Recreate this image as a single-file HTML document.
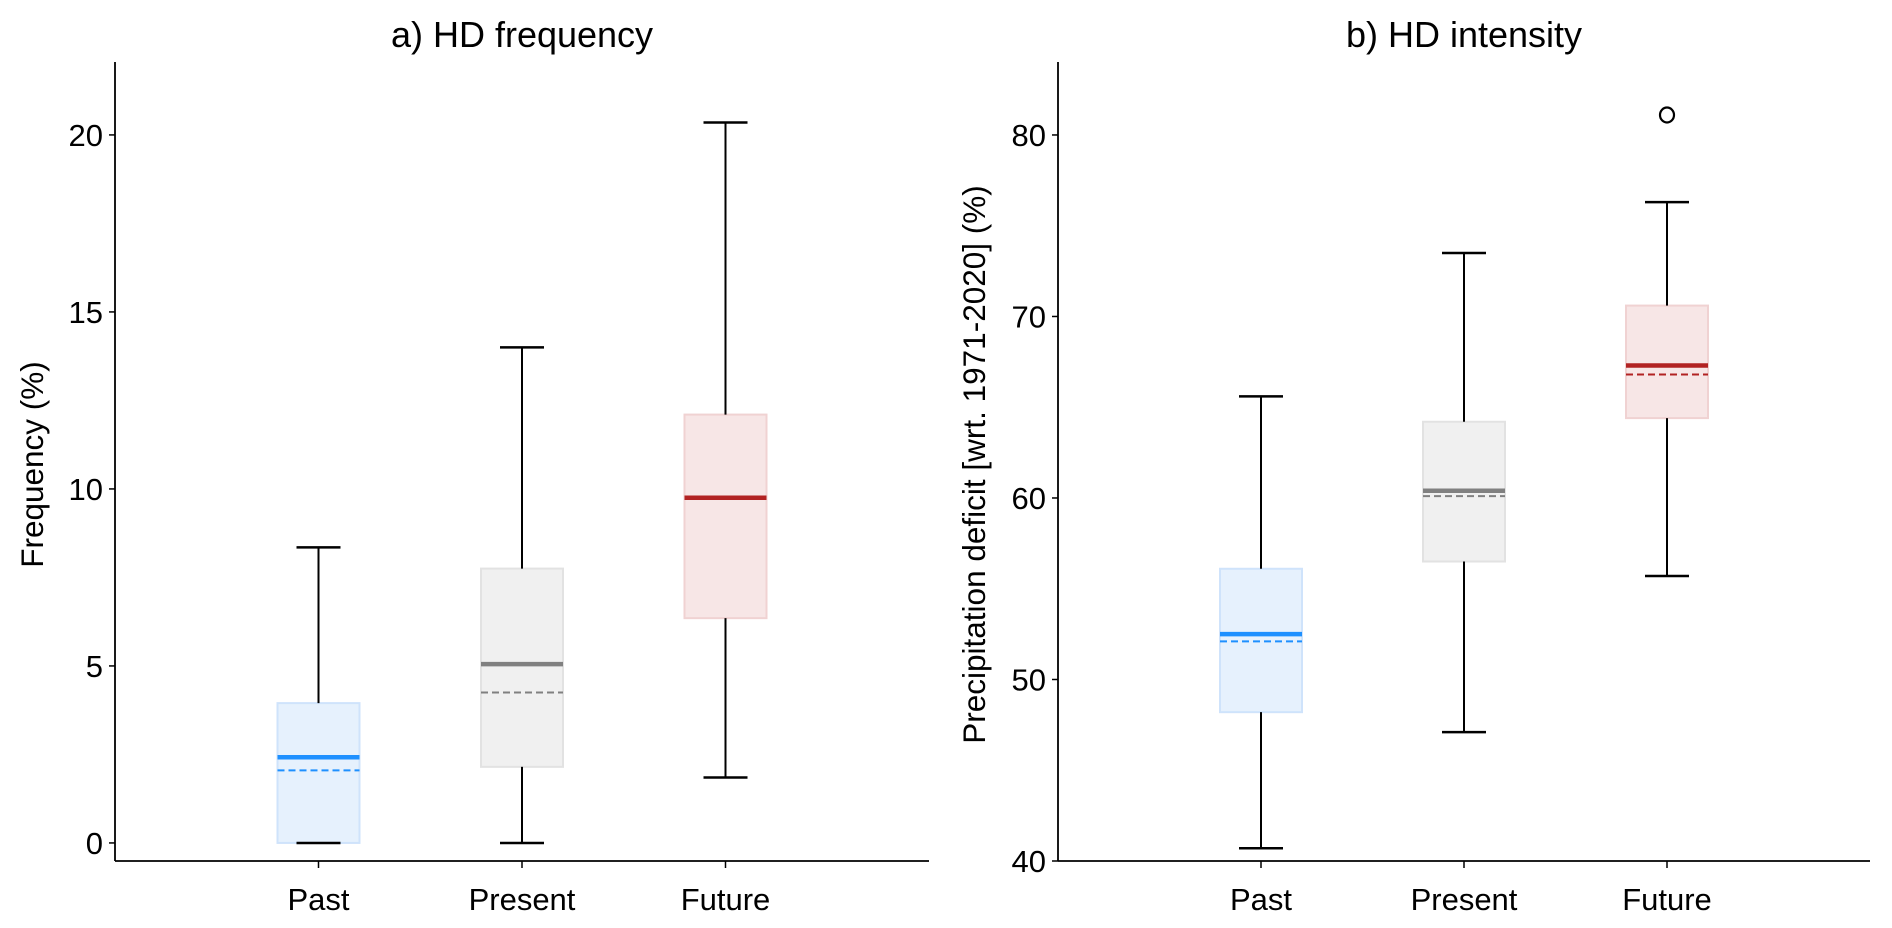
<!DOCTYPE html>
<html><head><meta charset="utf-8"><style>
html,body{margin:0;padding:0;background:#fff}
svg text{font-family:"Liberation Sans",Arial,sans-serif;fill:#000}
</style></head><body>
<svg id="chart" width="1892" height="923" viewBox="0 0 1892 923" xmlns="http://www.w3.org/2000/svg"></svg>
<script>
const categories = ["Past","Present","Future"];
// panel a: HD frequency
const freqLow = [0, 0, 1.85];
const freqQ1 = [0, 2.15, 6.35];
const freqMedian = [2.42, 5.05, 9.75];
const freqMean = [2.05, 4.25, 9.75];
const freqQ3 = [3.95, 7.75, 12.1];
const freqHigh = [8.35, 14.0, 20.35];
const freqTicks = [0, 5, 10, 15, 20];
// panel b: HD intensity
const intLow = [40.7, 47.1, 55.7];
const intQ1 = [48.2, 56.5, 64.4];
const intMedian = [52.5, 60.4, 67.3];
const intMean = [52.1, 60.1, 66.8];
const intQ3 = [56.1, 64.2, 70.6];
const intHigh = [65.6, 73.5, 76.3];
const intOutliers = [[], [], [81.1]];
const intTicks = [40, 50, 60, 70, 80];

const lineColors = ["#1e90ff","#808080","#b22222"];
const fillColors = ["#e6f1fd","#f0f0f0","#f7e6e6"];
const edgeColors = ["#cfe3fb","#e2e2e2","#f0d2d2"];

const svg = document.getElementById('chart');
const NS = "http://www.w3.org/2000/svg";
function mk(tag, attrs, parent){const e=document.createElementNS(NS,tag);for(const k in attrs)e.setAttribute(k,attrs[k]);(parent||svg).appendChild(e);return e;}

function panel(opt){
  const g = mk('g',{});
  
  
  const x0=opt.x0,x1=opt.x1,yTop=62,yBot=861;
  const ys = v => yBot - (v-opt.ymin)/(opt.ymax-opt.ymin)*(yBot-yTop);
  const xs = i => opt.cx0 + i*opt.step;
  const sl = mk('line',{x1:x0,y1:yTop,x2:x0,y2:yBot,stroke:'#000','stroke-width':1.8},g);
  
  
  const sb = mk('line',{x1:x0,y1:yBot,x2:x1,y2:yBot,stroke:'#000','stroke-width':1.8},g);
  
  
  opt.ticks.forEach(t=>{
    const y=ys(t);
    mk('line',{x1:x0-6,y1:y,x2:x0,y2:y,stroke:'#000','stroke-width':1.5},g);
    const tx=mk('text',{x:x0-12,y:y+11,'text-anchor':'end','font-size':31},g);
    tx.textContent=t;
    
    
  });
  categories.forEach((c,i)=>{
    const x=xs(i);
    mk('line',{x1:x,y1:yBot,x2:x,y2:yBot+7,stroke:'#000','stroke-width':1.5},g);
    const tx=mk('text',{x:x,y:yBot+49,'text-anchor':'middle','font-size':31},g);
    tx.textContent=c;
    
    
    const bw=82,cw=44;
    const box=mk('rect',{x:x-bw/2,y:ys(opt.q3[i]),width:bw,height:Math.max(ys(opt.q1[i])-ys(opt.q3[i]),0),fill:fillColors[i],stroke:edgeColors[i],'stroke-width':2},g);
    
    
    const w1=mk('line',{x1:x,y1:ys(opt.q3[i]),x2:x,y2:ys(opt.hi[i]),stroke:'#000','stroke-width':2},g);
    
    
    const w2=mk('line',{x1:x,y1:ys(opt.q1[i]),x2:x,y2:ys(opt.lo[i]),stroke:'#000','stroke-width':2},g);
    
    
    [opt.hi[i],opt.lo[i]].forEach(v=>{
      const cap=mk('line',{x1:x-cw/2,y1:ys(v),x2:x+cw/2,y2:ys(v),stroke:'#000','stroke-width':2.5},g);
      
      
    });
    const mn=mk('line',{x1:x-bw/2,y1:ys(opt.mean[i]),x2:x+bw/2,y2:ys(opt.mean[i]),stroke:lineColors[i],'stroke-width':2,'stroke-dasharray':'7,4'},g);
    
    
    const md=mk('line',{x1:x-bw/2,y1:ys(opt.med[i]),x2:x+bw/2,y2:ys(opt.med[i]),stroke:lineColors[i],'stroke-width':4.5},g);
    
    
    (opt.out ? opt.out[i] : []).forEach(v=>{
      const o=mk('ellipse',{cx:x,cy:ys(v),rx:7,ry:7.5,fill:'none',stroke:'#000','stroke-width':2.2},g);
      
      
    });
  });
  const ti=mk('text',{x:(x0+x1)/2,y:47,'text-anchor':'middle','font-size':36},g);
  ti.textContent=opt.title;
  
  
  const yl=mk('text',{x:0,y:0,'text-anchor':'middle','font-size':31.5,transform:`translate(${opt.ylx},${(yTop+yBot)/2+3}) rotate(-90)`},g);
  yl.textContent=opt.ylabel;
  
  
}
panel({name:'panel-hd-frequency',x0:115,x1:929,cx0:318.5,step:203.5,ymin:-0.51,ymax:22.06,ticks:freqTicks,
  lo:freqLow,q1:freqQ1,med:freqMedian,mean:freqMean,q3:freqQ3,hi:freqHigh,title:'a) HD frequency',ylabel:'Frequency (%)',ylx:43});
panel({name:'panel-hd-intensity',x0:1058,x1:1870,cx0:1261,step:203,ymin:40,ymax:84.02,ticks:intTicks,
  lo:intLow,q1:intQ1,med:intMedian,mean:intMean,q3:intQ3,hi:intHigh,out:intOutliers,title:'b) HD intensity',ylabel:'Precipitation deficit [wrt. 1971-2020] (%)',ylx:985});
</script>
</body></html>
